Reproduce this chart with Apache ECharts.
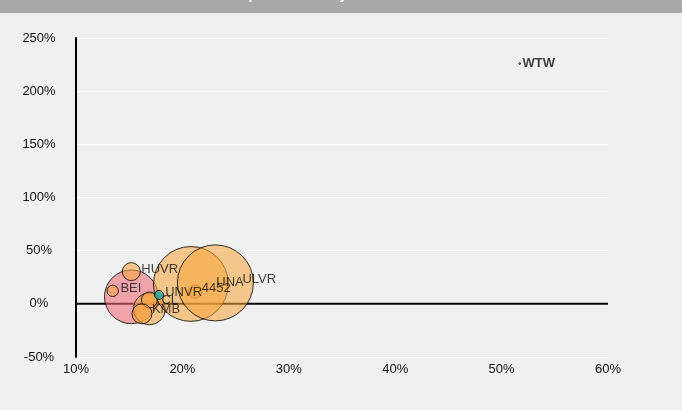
<!DOCTYPE html>
<html><head><meta charset="utf-8">
<script src="https://cdn.jsdelivr.net/npm/echarts@6/dist/echarts.min.js"></script>
<style>html,body{margin:0;padding:0;background:#f0f0f0}#c{width:682px;height:410px}</style>
</head><body><div id="c"></div>
<script>
// ---- data ----
const tickers      = ['UNVR','HUVR','BEI','','CL','KMB','4452','UNA','ULVR','WTW',''];
const xValues      = [15.2, 15.2, 13.45, 16.9, 16.9, 16.2, 21.2, 20.8, 23.1, 51.7, 17.8];
const yValues      = [6.6, 30.3, 12.2, -4.7, 3.7, -9.4, 11.5, 18.7, 19.7, 226, 8.4];
const bubbleValues = [50, 5.6, 2.25, 17.7, 4.4, 6.9, 3.1, 97, 100, 0.05, 1.4];
const groups       = ['subject','peer','peer','peer','peer','peer','peer','peer','peer','peer','other'];
const xTicks = [10, 20, 30, 40, 50, 60];
const yTicks = [-50, 0, 50, 100, 150, 200, 250];

// ---- style ----
const groupColors = { subject: 'rgba(240,106,116,0.72)', peer: 'rgba(247,166,60,0.7)', other: 'rgb(32,168,158)' };
const labelNudge = { UNVR:[5,-4], HUVR:[-1,-2], BEI:[0,-2], CL:[2,1], KMB:[-2,-4], '4452':[-2,-3], UNA:[-14,-2], ULVR:[-13,-3], WTW:[0,0] };
const boldLabels = { WTW: true };
const FONT = 'Liberation Sans, Arial, sans-serif';

const chart = echarts.init(document.getElementById('c'), null, { renderer: 'canvas' });
const xMin = xTicks[0], xMax = xTicks[xTicks.length-1];
const yMin = yTicks[0], yMax = yTicks[yTicks.length-1];
const sizeFn = (val) => Math.sqrt(val[2]) * 7.6;

const bubbles = tickers.map((t, i) => ({
  name: t,
  value: [xValues[i], yValues[i], bubbleValues[i]],
  itemStyle: { color: groupColors[groups[i]] }
}));
const labels = tickers.map((t, i) => ({
  name: t,
  value: [xValues[i], yValues[i], bubbleValues[i]],
  label: {
    show: t !== '',
    offset: labelNudge[t] || [0,0],
    fontWeight: boldLabels[t] ? 'bold' : 'normal'
  }
}));

chart.setOption({
  backgroundColor: '#f0f0f0',
  animation: false,
  graphic: [{ type: 'rect', silent: true, z: 0, shape: { x: 0, y: 0, width: 682, height: 13 }, style: { fill: '#a9a9a9' } }],
  title: {
    text: 'Capital Efficiency vs. Market Size',
    left: 'center', top: -17, z: 10,
    textStyle: { color: '#ffffff', fontSize: 14, fontWeight: 'bold', fontFamily: FONT }
  },
  grid: { left: 76, right: 74, top: 38, bottom: 53, containLabel: false },
  xAxis: {
    type: 'value', min: xMin, max: xMax, interval: xTicks[1]-xTicks[0],
    axisLine: { show: false }, axisTick: { show: false }, splitLine: { show: false },
    axisLabel: { formatter: '{value}%', margin: 6, color: '#111', fontSize: 13, fontFamily: FONT }
  },
  yAxis: {
    type: 'value', min: yMin, max: yMax, interval: yTicks[1]-yTicks[0],
    axisLine: { show: true, onZero: false, lineStyle: { color: '#000', width: 2 } },
    axisTick: { show: false },
    splitLine: { show: true, lineStyle: { color: '#ffffff', width: 1 } },
    axisLabel: { formatter: '{value}%', align: 'center', margin: 37, color: '#111', fontSize: 13, fontFamily: FONT }
  },
  series: [
    {
      type: 'line', z: 1, silent: true, symbol: 'none',
      data: [[xMin, 0], [xMax, 0]],
      lineStyle: { color: '#000', width: 2 }
    },
    {
      type: 'scatter', z: 3,
      symbolSize: sizeFn,
      itemStyle: { borderColor: '#000', borderWidth: 1 },
      label: { show: false },
      emphasis: { disabled: true },
      data: bubbles
    },
    {
      type: 'scatter', z: 4, silent: true,
      symbolSize: sizeFn,
      itemStyle: { color: 'rgba(0,0,0,0)', borderWidth: 0 },
      label: { show: true, position: 'right', distance: 2, formatter: '{b}', color: '#111', fontSize: 13, fontFamily: FONT },
      emphasis: { disabled: true },
      data: labels
    }
  ]
});
</script>
</body></html>
